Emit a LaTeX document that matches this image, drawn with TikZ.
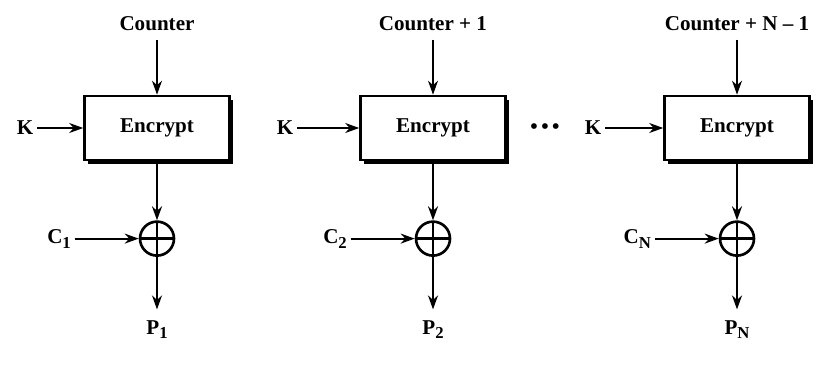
\documentclass[tikz,border=0pt]{standalone}
\usepackage{fontspec}
\setmainfont{Liberation Serif}
\usetikzlibrary{arrows.meta,positioning,shadows}
\newcommand{\lowsub}[1]{\raisebox{-0.5ex}{\fontsize{9.5}{11}\selectfont #1}}
\tikzset{cipher/.style={draw,line width=1.5pt,fill=white,minimum width=2.9cm,minimum height=1.28cm,
    font=\bfseries\fontsize{12}{14}\selectfont,
    drop shadow={shadow xshift=2.2pt,shadow yshift=-2.2pt,fill=black,opacity=1}},
  xorop/.style={circle,draw,line width=1.5pt,minimum size=6.8mm,inner sep=0pt,
    path picture={\draw[line width=1.5pt] (path picture bounding box.north) -- (path picture bounding box.south)
      (path picture bounding box.west) -- (path picture bounding box.east);}},
  flow/.style={-{Stealth[length=2.8mm,width=2mm]},line width=1.1pt},
  lbl/.style={font=\bfseries\fontsize{12}{14}\selectfont,inner sep=2pt}}

\begin{document}
\begin{tikzpicture}[x=0.02cm,y=0.02cm]
\useasboundingbox (0,0) rectangle (820,366);
\foreach \cx/\ctr/\sub/\kgap [count=\i] in {157/Counter/1/0.92cm,433/Counter + 1/2/1.24cm,737/Counter + N -- 1/N/1.16cm} {
 \node[cipher] (enc\i) at (\cx,238) {Encrypt};
 \node[lbl,inner ysep=5pt,above=1.1cm of enc\i] (ctr\i) {\ctr};
 \node[lbl,left=\kgap of enc\i] (key\i) {K};
 \node[xorop,below=1.18cm of enc\i] (xor\i) {};
 \node[lbl,left=1.28cm of xor\i] (cin\i) {C\lowsub{\sub}};
 \node[lbl,inner ysep=6pt,below=1.05cm of xor\i] (out\i) {P\lowsub{\sub}};
 \draw[flow] (ctr\i) -- (enc\i);
 \draw[flow] (key\i) -- (enc\i);
 \draw[flow] (enc\i) -- (xor\i);
 \draw[flow] (cin\i) -- (xor\i);
 \draw[flow] (xor\i) -- (out\i);}
\node[lbl] (dots) at (545,237) {\textbullet\,\textbullet\,\textbullet};
\end{tikzpicture}
\end{document}
